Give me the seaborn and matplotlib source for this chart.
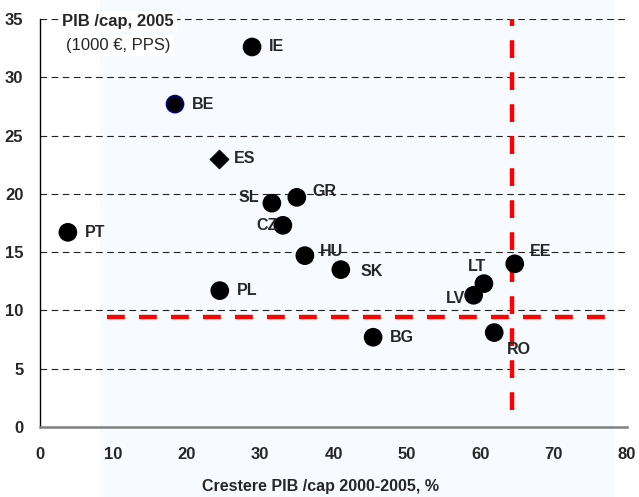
import matplotlib
matplotlib.use("Agg")
import matplotlib.pyplot as plt
from matplotlib.patches import Rectangle
import pandas as pd
import seaborn as sns

# data
countries = ["IE", "BE", "ES", "SL", "GR", "CZ", "PT", "HU", "SK", "PL", "BG", "EE", "LT", "LV", "RO"]
growth = [28.9, 18.4, 24.4, 31.6, 35.0, 33.1, 3.8, 36.1, 41.0, 24.5, 45.4, 64.7, 60.5, 59.1, 61.9]
gdp_cap = [32.6, 27.7, 23.0, 19.2, 19.7, 17.3, 16.7, 14.7, 13.5, 11.7, 7.7, 14.0, 12.3, 11.3, 8.1]

thr_gdp = 9.4
thr_growth = 64.3

x_ticks = [0, 10, 20, 30, 40, 50, 60, 70, 80]
y_ticks = [0, 5, 10, 15, 20, 25, 30, 35]

df = pd.DataFrame({"country": countries, "growth": growth, "gdp": gdp_cap})
df["kind"] = ["diamond" if c == "ES" else ("edge" if c == "BE" else "dot") for c in countries]

# label offsets in points (ha, dx, dy)
label_pos = {
    "IE": ("left", 12, 0), "BE": ("left", 12, 0), "ES": ("left", 11, 0),
    "SL": ("right", -9, 4), "GR": ("left", 11, 4), "CZ": ("right", -4, 0),
    "PT": ("left", 12, 0), "HU": ("left", 11, 3), "SK": ("left", 14, -1),
    "PL": ("left", 12, 0), "BG": ("left", 12, 0), "EE": ("left", 11, 9),
    "LT": ("center", -5, 12), "LV": ("right", -6, -2), "RO": ("left", 9, -12),
}

sns.set_style("white")
plt.rcParams["font.family"] = ["Liberation Sans", "DejaVu Sans"]

fig = plt.figure(figsize=(6.39, 4.97), dpi=100)
fig.patches.append(Rectangle((100 / 639, 0), 515 / 639, 1, transform=fig.transFigure,
                             facecolor="#f7fafe", edgecolor="none", zorder=-5))
ax = fig.add_axes([40 / 639, 70 / 497, 587 / 639, 408 / 497])
ax.set_facecolor("none")
ax.set_zorder(1)

dots = df[df["kind"] != "diamond"]
sns.scatterplot(data=dots, x="growth", y="gdp", ax=ax, s=150, color="black",
                edgecolor=["#000080" if k == "edge" else "black" for k in dots["kind"]],
                linewidth=1.2, zorder=4, legend=False)
sns.scatterplot(data=df[df["kind"] == "diamond"], x="growth", y="gdp", ax=ax, s=90,
                marker="D", color="black", edgecolor="black", zorder=4, legend=False)

for c, xv, yv in zip(countries, growth, gdp_cap):
    ha, dx, dy = label_pos[c]
    ax.annotate(c, (xv, yv), xytext=(dx, dy), textcoords="offset points",
                ha=ha, va="center", fontsize=11.5, fontweight="bold", zorder=5)

# threshold lines
ax.plot([9.1, 78.6], [thr_gdp, thr_gdp], color="red", lw=3.2, dashes=(4.0, 3.2), zorder=3)
ax.plot([thr_growth, thr_growth], [1.5, 35], color="red", lw=3.2, dashes=(4.0, 3.2), zorder=3)

for yv in y_ticks[1:]:
    ax.axhline(yv, color="#222222", lw=0.8, dashes=(6, 4), zorder=1)

ax.set_xlim(0, 80)
ax.set_ylim(0, 35)
ax.set_xticks(x_ticks)
ax.set_yticks(y_ticks)
ax.tick_params(axis="x", direction="out", length=3.5, width=1, color="#444444", pad=11,
               labelsize=12)
ax.tick_params(axis="y", direction="out", length=4, width=1, color="black", pad=8,
               labelsize=12)
for lab in ax.get_xticklabels() + ax.get_yticklabels():
    lab.set_fontweight("bold")

ax.spines["top"].set_visible(False)
ax.spines["right"].set_visible(False)
ax.spines["left"].set_color("black")
ax.spines["left"].set_linewidth(1)
ax.spines["bottom"].set_color("#808080")
ax.spines["bottom"].set_linewidth(1.8)
ax.spines["left"].set_zorder(2)

ax.set_xlabel("Crestere PIB /cap 2000-2005, %", fontsize=11.5, fontweight="bold")
ax.xaxis.set_label_coords(280 / 587, -52 / 408)
ax.set_ylabel("")

ax.text(0.038, 0.995, "PIB /cap, 2005", transform=ax.transAxes, fontsize=12,
        fontweight="bold", ha="left", va="center", zorder=6,
        bbox=dict(facecolor="white", edgecolor="none", pad=2))
ax.text(0.045, 0.935, "(1000 €, PPS)", transform=ax.transAxes, fontsize=12,
        ha="left", va="center", zorder=6,
        bbox=dict(facecolor="white", edgecolor="none", pad=2))

fig.savefig("out.png", dpi=100)
